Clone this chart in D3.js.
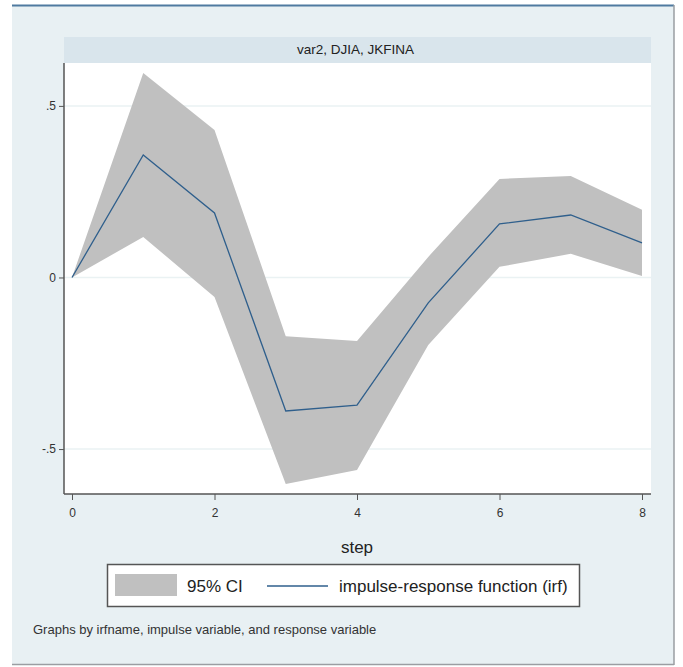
<!DOCTYPE html>
<html>
<head>
<meta charset="utf-8">
<script src="https://cdn.jsdelivr.net/npm/d3@7"></script>
<style>
    body { margin: 0; background: #ffffff; }
    text { font-family: "Liberation Sans", Arial, sans-serif; }
</style>
</head>
<body>
<div id="chart"></div>
<script>
// irf values
var steps = [0, 1, 2, 3, 4, 5, 6, 7, 8];
var irf = [0, 0.357, 0.188, -0.389, -0.372, -0.074, 0.156, 0.182, 0.101];
var ciUpper = [0, 0.596, 0.430, -0.171, -0.185, 0.060, 0.287, 0.296, 0.197];
var ciLower = [0, 0.118, -0.057, -0.602, -0.561, -0.197, 0.031, 0.069, 0.004];
var xTicks = [0, 2, 4, 6, 8];
var yTicks = [-0.5, 0, 0.5];
var yTickLabels = ['-.5', '0', '.5'];
var panelTitle = 'var2, DJIA, JKFINA';
var legendLabels = ['95% CI', 'impulse-response function (irf)'];
var note = 'Graphs by irfname, impulse variable, and response variable';

var width = 683, height = 667;
var plot = { left: 64, right: 651, top: 63, bottom: 494 };

var svg = d3.select('#chart').append('svg')
    .attr('width', width)
    .attr('height', height);

// outer graph region
svg.append('rect')
    .attr('x', 12).attr('y', 5)
    .attr('width', 662).attr('height', 659)
    .attr('fill', '#e8f0f3');
svg.append('line')
    .attr('x1', 12).attr('x2', 674).attr('y1', 5.5).attr('y2', 5.5)
    .attr('stroke', '#4f7aa0').attr('stroke-width', 2);
svg.append('line')
    .attr('x1', 674).attr('x2', 674).attr('y1', 5).attr('y2', 665)
    .attr('stroke', '#9a9ea2').attr('stroke-width', 1.5);
svg.append('line')
    .attr('x1', 12).attr('x2', 674).attr('y1', 664.5).attr('y2', 664.5)
    .attr('stroke', '#9a9ea2').attr('stroke-width', 1.5);

// panel title strip
svg.append('rect')
    .attr('x', plot.left).attr('y', 37)
    .attr('width', plot.right - plot.left).attr('height', 26)
    .attr('fill', '#d9e5ec');
svg.append('text')
    .attr('x', (plot.left + plot.right) / 2 - 2).attr('y', 54)
    .attr('text-anchor', 'middle')
    .attr('font-size', 13.5).attr('fill', '#222')
    .text(panelTitle);

// plot region
svg.append('rect')
    .attr('x', plot.left).attr('y', plot.top)
    .attr('width', plot.right - plot.left).attr('height', plot.bottom - plot.top)
    .attr('fill', '#ffffff');

var x = d3.scaleLinear().domain([0, 8]).range([72, 642]);
var y = d3.scaleLinear().domain([-0.631, 0.625]).range([plot.bottom, plot.top]);

// grid lines
svg.append('g').selectAll('line')
    .data(yTicks)
    .enter().append('line')
    .attr('x1', plot.left).attr('x2', plot.right)
    .attr('y1', function (d) { return y(d); })
    .attr('y2', function (d) { return y(d); })
    .attr('stroke', '#eaf2f3').attr('stroke-width', 1.5);

// confidence band
var band = d3.area()
    .x(function (d, i) { return x(steps[i]); })
    .y0(function (d, i) { return y(ciLower[i]); })
    .y1(function (d, i) { return y(ciUpper[i]); });

svg.append('path')
    .datum(steps)
    .attr('d', band)
    .attr('fill', '#c0c0c0');

// irf line
var valueline = d3.line()
    .x(function (d, i) { return x(steps[i]); })
    .y(function (d) { return y(d); });

svg.append('path')
    .datum(irf)
    .attr('d', valueline)
    .attr('fill', 'none')
    .attr('stroke', '#2f5f8c')
    .attr('stroke-width', 1.3);

// axes
var xAxis = svg.append('g')
    .attr('transform', 'translate(0,' + plot.bottom + ')')
    .call(d3.axisBottom(x).tickValues(xTicks).tickSize(6).tickSizeOuter(0).tickPadding(8));
xAxis.select('.domain')
    .attr('d', 'M' + plot.left + ',0H' + plot.right)
    .attr('stroke', '#555').attr('stroke-width', 1.5);

var yAxis = svg.append('g')
    .attr('transform', 'translate(' + plot.left + ',0)')
    .call(d3.axisLeft(y).tickValues(yTicks)
        .tickFormat(function (d, i) { return yTickLabels[i]; })
        .tickSize(5).tickSizeOuter(0).tickPadding(3));
yAxis.select('.domain')
    .attr('d', 'M0,' + plot.top + 'V' + plot.bottom)
    .attr('stroke', '#555').attr('stroke-width', 1.5);

svg.selectAll('.tick line').attr('stroke', '#555');
svg.selectAll('.tick text')
    .attr('font-family', '"Liberation Sans", Arial, sans-serif')
    .attr('font-size', 12).attr('fill', '#333');

// x title
svg.append('text')
    .attr('x', (72 + 642) / 2).attr('y', 553)
    .attr('text-anchor', 'middle')
    .attr('font-size', 17).attr('fill', '#222')
    .text('step');

// legend
var legend = svg.append('g');
legend.append('rect')
    .attr('x', 107.5).attr('y', 564.5)
    .attr('width', 472).attr('height', 42)
    .attr('fill', '#ffffff')
    .attr('stroke', '#555').attr('stroke-width', 1.5);
legend.append('rect')
    .attr('x', 115).attr('y', 574)
    .attr('width', 62).attr('height', 22)
    .attr('fill', '#c0c0c0');
legend.append('text')
    .attr('x', 187).attr('y', 592)
    .attr('font-size', 17).attr('fill', '#222')
    .text(legendLabels[0]);
legend.append('line')
    .attr('x1', 267).attr('x2', 328).attr('y1', 586).attr('y2', 586)
    .attr('stroke', '#2f5f8c').attr('stroke-width', 1.3);
legend.append('text')
    .attr('x', 339).attr('y', 592)
    .attr('font-size', 17).attr('fill', '#222')
    .text(legendLabels[1]);

// note
svg.append('text')
    .attr('x', 33).attr('y', 634)
    .attr('font-size', 13).attr('fill', '#333')
    .text(note);
</script>
</body>
</html>
